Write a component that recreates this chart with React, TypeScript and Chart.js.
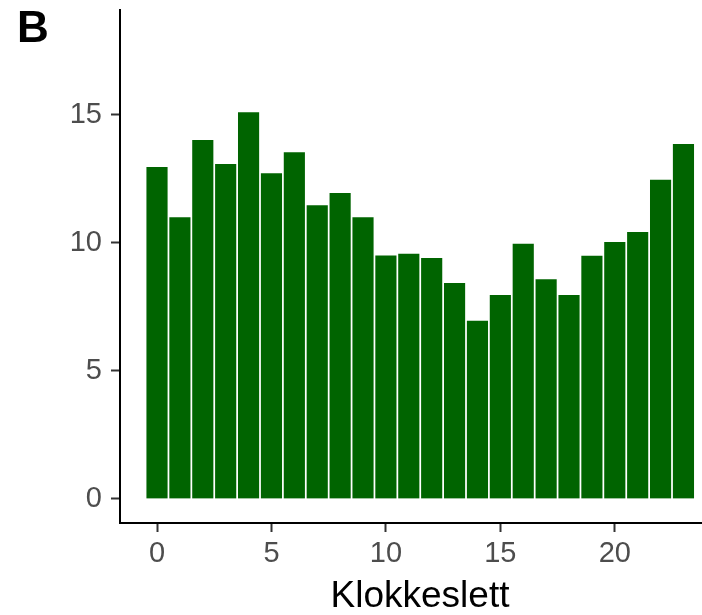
import React, { useEffect, useRef } from "react";
import { Chart, registerables } from "chart.js";

Chart.register(...registerables);

const hours = [0, 1, 2, 3, 4, 5, 6, 7, 8, 9, 10, 11, 12, 13, 14, 15, 16, 17, 18, 19, 20, 21, 22, 23];
const values = [13.0, 11.04, 14.06, 13.12, 15.14, 12.76, 13.58, 11.51, 11.99, 11.04, 9.54, 9.61, 9.45, 8.47, 6.99, 8.0, 10.0, 8.62, 8.0, 9.53, 10.07, 10.46, 12.5, 13.9];
const xTicks = [0, 5, 10, 15, 20];
const yTicks = [0, 5, 10, 15];
const xTitle = "Klokkeslett";
const panelTag = "B";

const textPlugin = {
  id: "textPlugin",
  afterDraw(chart: any) {
    const ctx = chart.ctx;
    ctx.save();
    ctx.fillStyle = "#000000";
    ctx.textBaseline = "alphabetic";
    ctx.font = "bold 44px 'Liberation Sans', Arial, sans-serif";
    ctx.textAlign = "left";
    ctx.fillText(panelTag, 17, 42);
    ctx.font = "37px 'Liberation Sans', Arial, sans-serif";
    ctx.textAlign = "center";
    ctx.fillText(xTitle, 420, 607);
    ctx.restore();
  },
};

export default function App() {
  const ref = useRef<HTMLCanvasElement | null>(null);
  useEffect(() => {
    if (!ref.current) return;
    const chart = new Chart(ref.current, {
      type: "bar",
      data: {
        datasets: [
          {
            data: hours.map((h, i) => ({ x: h, y: values[i] })),
            backgroundColor: "#006400",
            borderColor: "#ffffff",
            borderWidth: 1.2,
            borderSkipped: "bottom",
            barPercentage: 1,
            categoryPercentage: 1,
          },
        ],
      },
      options: {
        animation: false,
        responsive: false,
        maintainAspectRatio: false,
        layout: { padding: { top: 10, right: 0, left: 0, bottom: 0 } },
        plugins: { legend: { display: false }, tooltip: { enabled: false }, title: { display: false } },
        scales: {
          x: {
            type: "linear",
            offset: false,
            min: -1.617,
            max: 23.81,
            afterBuildTicks: (s: any) => {
              s.ticks = xTicks.map((v) => ({ value: v }));
            },
            afterFit: (s: any) => {
              s.height = 92;
              s.paddingLeft = 0;
              s.paddingRight = 0;
            },
            ticks: {
              color: "#4D4D4D",
              font: { size: 29, family: "'Liberation Sans', Arial, sans-serif" },
              padding: 5,
              maxRotation: 0,
              autoSkip: false,
            },
            grid: {
              display: true,
              offset: false,
              drawOnChartArea: false,
              drawTicks: true,
              tickLength: 9,
              tickColor: "#333333",
              tickWidth: 2,
            },
            border: { display: true, color: "#000000", width: 2 },
          },
          y: {
            type: "linear",
            min: -0.94,
            max: 19.1,
            afterBuildTicks: (s: any) => {
              s.ticks = yTicks.map((v) => ({ value: v }));
            },
            afterFit: (s: any) => {
              s.width = 120;
              s.paddingTop = 0;
              s.paddingBottom = 0;
            },
            ticks: {
              color: "#4D4D4D",
              font: { size: 29, family: "'Liberation Sans', Arial, sans-serif" },
              padding: 9,
              autoSkip: false,
            },
            grid: {
              display: true,
              offset: false,
              drawOnChartArea: false,
              drawTicks: true,
              tickLength: 9,
              tickColor: "#333333",
              tickWidth: 2,
            },
            border: { display: true, color: "#000000", width: 2 },
          },
        },
      },
      plugins: [textPlugin],
    } as any);
    return () => chart.destroy();
  }, []);
  return (
    <div style={{ position: "absolute", left: 0, top: 0, width: 702, height: 615, background: "#ffffff" }}>
      <canvas ref={ref} width={702} height={615} style={{ width: 702, height: 615, display: "block" }} />
    </div>
  );
}
